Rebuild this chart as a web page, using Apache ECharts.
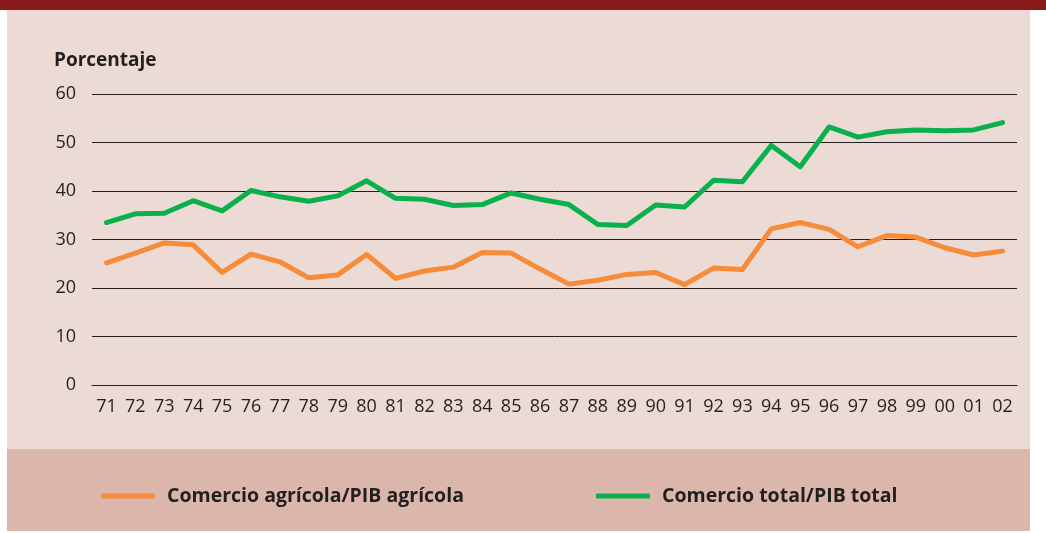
<!DOCTYPE html>
<html>
<head>
<meta charset="utf-8">
<script src="https://cdn.jsdelivr.net/npm/echarts@6/dist/echarts.min.js"></script>
<style>
html, body { margin: 0; padding: 0; background: #fff; }
#chart { width: 1046px; height: 533px; }
</style>
</head>
<body>
<div id="chart"></div>
<script>
var years = ['71','72','73','74','75','76','77','78','79','80','81','82','83','84','85','86',
	'87','88','89','90','91','92','93','94','95','96','97','98','99','00','01','02'];
var agricola = [25.2, 27.2, 29.3, 28.9, 23.2, 27.0, 25.4, 22.1, 22.7, 26.9, 22.0, 23.5, 24.3, 27.3, 27.2, 23.9,
	20.8, 21.6, 22.8, 23.2, 20.7, 24.1, 23.8, 32.2, 33.5, 32.1, 28.5, 30.8, 30.5, 28.3, 26.8, 27.6];
var total = [33.5, 35.3, 35.4, 38.0, 35.9, 40.1, 38.8, 37.9, 39.0, 42.1, 38.5, 38.3, 37.0, 37.2, 39.6, 38.3,
	37.2, 33.1, 32.9, 37.1, 36.7, 42.2, 41.9, 49.4, 45.0, 53.2, 51.1, 52.2, 52.6, 52.4, 52.6, 54.1];
var yTicks = [0, 10, 20, 30, 40, 50, 60];

var orange = '#F68B39';
var green = '#0AB04C';
var ink = '#231F20';
var font = 'Open Sans';

var myChart = echarts.init(document.getElementById('chart'));

var legendText = { fontFamily: font, fontSize: 19.5, fontWeight: 'bold', color: ink, padding: [0, 0, 0, 7] };

var option = {
	backgroundColor: '#fff',
	animation: false,
	textStyle: { fontFamily: font },
	graphic: [
		{ type: 'rect', z: -10, shape: { x: 7, y: 0, width: 1023, height: 449 }, style: { fill: '#EBDBD4' } },
		{ type: 'rect', z: -10, shape: { x: 7, y: 449, width: 1023, height: 82 }, style: { fill: '#DBB7AB' } },
		{ type: 'rect', z: -9, shape: { x: 0, y: 0, width: 1046, height: 10 }, style: { fill: '#8B1A1D' } }
	],
	title: {
		text: 'Porcentaje',
		left: 49,
		top: 46,
		textStyle: { fontFamily: font, fontSize: 19, fontWeight: 'bold', color: ink }
	},
	legend: [{
		left: 96,
		top: 481,
		icon: 'roundRect',
		itemWidth: 54,
		itemHeight: 5,
		textStyle: legendText,
		data: ['Comercio agrícola/PIB agrícola']
	}, {
		left: 591,
		top: 481,
		icon: 'roundRect',
		itemWidth: 54,
		itemHeight: 5,
		textStyle: legendText,
		data: ['Comercio total/PIB total']
	}],
	grid: {
		left: 92,
		right: 29,
		top: 94,
		bottom: 148
	},
	xAxis: {
		type: 'category',
		data: years,
		axisLine: { lineStyle: { color: ink, width: 1 } },
		axisTick: { alignWithLabel: true, length: 10, lineStyle: { color: ink } },
		axisLabel: { color: ink, fontSize: 18, margin: 13, interval: 0 },
		splitLine: { show: false }
	},
	yAxis: {
		type: 'value',
		min: yTicks[0],
		max: yTicks[yTicks.length - 1],
		interval: 10,
		axisLine: { show: false },
		axisTick: { show: false },
		axisLabel: { color: ink, fontSize: 18, margin: 16 },
		splitLine: { lineStyle: { color: ink, width: 1 } }
	},
	series: [{
		name: 'Comercio agrícola/PIB agrícola',
		type: 'line',
		data: agricola,
		symbol: 'none',
		color: orange,
		lineStyle: { width: 5, color: orange, cap: 'round', join: 'round' }
	}, {
		name: 'Comercio total/PIB total',
		type: 'line',
		data: total,
		symbol: 'none',
		color: green,
		lineStyle: { width: 5, color: green, cap: 'round', join: 'round' }
	}]
};
myChart.setOption(option);
</script>
</body>
</html>
